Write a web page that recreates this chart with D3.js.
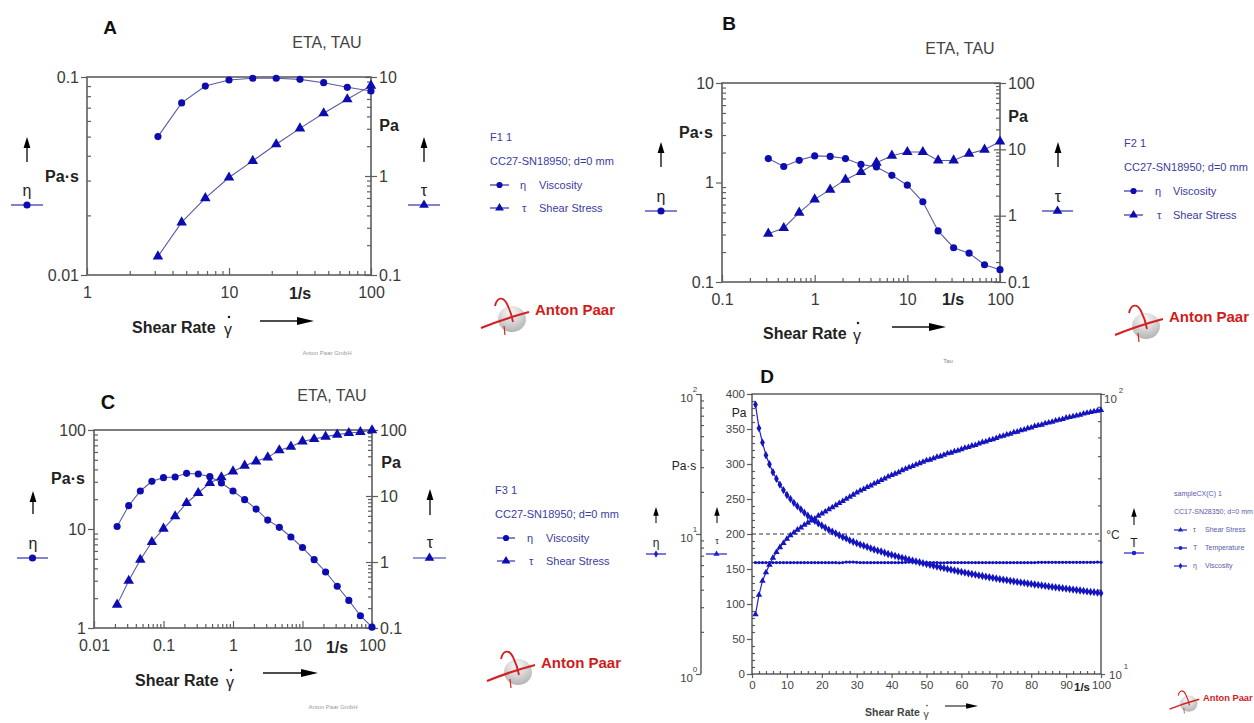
<!DOCTYPE html>
<html><head><meta charset="utf-8">
<script src="https://cdn.jsdelivr.net/npm/d3@7"></script>
<style>body{margin:0;background:#fff}svg{display:block}text{font-family:"Liberation Sans",Arial,sans-serif}</style>
</head><body><svg id="c" width="1254" height="723"></svg>
<script>
// ---------------- DATA ----------------
// Panel A
const aRate=[3.16,4.64,6.81,10,14.7,21.5,31.6,46.4,68.1,100];
const aEta=[0.050,0.074,0.090,0.0966,0.0985,0.0985,0.0973,0.0936,0.0887,0.085];
const aTau=[0.154,0.34,0.597,0.966,1.42,2.09,3.03,4.3,5.96,8.18];
const aXTicks=[1,10,100], aYLTicks=[0.01,0.1], aYRTicks=[0.1,1,10];
// Panel B
const bRate=[0.316,0.464,0.681,1,1.47,2.15,3.16,4.64,6.81,10,14.7,21.5,31.6,46.4,68.1,100];
const bEta=[1.74,1.45,1.67,1.85,1.83,1.74,1.52,1.43,1.18,0.94,0.64,0.326,0.221,0.195,0.149,0.133];
const bTau=[0.535,0.652,1.11,1.76,2.47,3.49,4.55,6.3,8.03,9.12,9.12,6.8,6.8,8.6,9.9,13.1];
const bXTicks=[0.1,1,10,100], bYLTicks=[0.1,1,10], bYRTicks=[0.1,1,10,100];
// Panel C
const cRate=[0.0215,0.0316,0.0464,0.0681,0.1,0.147,0.215,0.316,0.464,0.681,1,1.47,2.15,3.16,4.64,6.81,10,14.7,21.5,31.6,46.4,68.1,100];
const cEta=[10.6,17.2,24.2,30.3,33,33.5,36.5,35.9,33.8,29.2,24.2,19.8,15.9,12.3,10.4,8.3,6.5,4.9,3.68,2.64,1.9,1.33,1.02];
const cTau=[0.226,0.52,1.08,2.01,3.2,4.92,7.83,11.1,15.7,19.2,23.6,28.8,33.5,38.5,49.2,55.9,67.3,73.1,79.3,85,90,93.3,98.9];
const cXTicks=[0.01,0.1,1,10,100], cYLTicks=[1,10,100], cYRTicks=[0.1,1,10,100];
// Panel D
const dRate=[1,2,3,4,5,6,7,8,9,10,11,12,13,14,15,16,17,18,19,20,21,22,23,24,25,26,27,28,29,30,31,32,33,34,35,36,37,38,39,40,41,42,43,44,45,46,47,48,49,50,51,52,53,54,55,56,57,58,59,60,61,62,63,64,65,66,67,68,69,70,71,72,73,74,75,76,77,78,79,80,81,82,83,84,85,86,87,88,89,90,91,92,93,94,95,96,97,98,99,100];
const dTau=[85,113,133,145,156,166,174,181,187,193,198,202,206,209,213,216,219,222,226,229,232,235,238,241,244,247,250,253,256,259,262,264,267,269,272,274,277,279,282,284,286,288,291,293,295,297,299,301,303,305,306,308,310,311,313,315,316,318,319,321,323,324,326,327,329,331,332,334,335,337,339,340,342,343,345,346,348,349,351,352,354,355,356,358,359,360,362,363,364,366,367,368,369,370,372,373,374,375,376,377];
const dEta=[84,57,45,36.5,31.5,27.6,24.8,22.5,20.6,19.0,17.8,16.7,15.8,15.0,14.2,13.5,12.9,12.4,11.9,11.5,11.1,10.7,10.4,10.1,9.8,9.5,9.3,9.0,8.8,8.6,8.4,8.25,8.1,7.9,7.75,7.6,7.5,7.35,7.2,7.1,6.98,6.87,6.76,6.66,6.56,6.46,6.37,6.28,6.19,6.1,6.02,5.94,5.86,5.78,5.71,5.63,5.56,5.49,5.42,5.36,5.3,5.24,5.18,5.12,5.06,5.01,4.96,4.91,4.86,4.81,4.76,4.72,4.68,4.63,4.59,4.55,4.51,4.47,4.43,4.4,4.36,4.33,4.29,4.26,4.22,4.19,4.16,4.13,4.1,4.07,4.04,4.01,3.98,3.95,3.92,3.89,3.86,3.84,3.81,3.78];
const dTemp=[25.0,25.0,25.0,25.0,25.0,25.0,25.0,25.0,25.0,25.0,25.0,25.0,25.0,25.0,25.0,25.0,25.0,25.0,25.0,25.0,25.0,25.0,25.0,25.0,24.95,25.0,25.1,25.1,25.1,25.05,25.0,25.0,25.0,25.0,25.0,25.0,25.0,25.0,25.0,25.0,25.0,25.0,25.0,25.05,25.1,25.1,25.05,25.0,25.0,25.0,25.0,25.0,25.0,24.95,24.95,25.0,25.0,25.0,25.0,25.0,25.0,25.0,25.0,25.0,25.0,25.0,25.0,25.0,25.0,25.0,25.0,25.0,25.0,25.0,25.0,25.0,25.0,25.0,25.0,25.0,25.0,25.05,25.05,25.05,25.05,25.05,25.05,25.05,25.05,25.05,25.05,25.05,25.05,25.05,25.05,25.05,25.05,25.05,25.1,25.05];
const dXTicks=[0,10,20,30,40,50,60,70,80,90,100];
const dYTicks=[0,50,100,150,200,250,300,350,400];
const dEtaTicks=[1,10,100], dTTicks=[10,100];
const dDashed=[200];

// ---------------- DRAWING ----------------
const svg=d3.select('#c');
const MK='#0c0cb0', LN='#5a5aa6', AX='#5e5e5e', TX='#3a3a3a', LG='#3c3ca0';
const defs=svg.append('defs');
const rg=defs.append('radialGradient').attr('id','sph').attr('cx','45%').attr('cy','25%').attr('r','75%');
rg.append('stop').attr('offset','0%').attr('stop-color','#fafafa');
rg.append('stop').attr('offset','100%').attr('stop-color','#b4b4b4');

function styleAxis(s,fs,col){
  s.select('.domain').remove();
  s.selectAll('line').attr('stroke',AX).attr('stroke-width',1.2);
  if(fs) s.selectAll('text').attr('font-size',fs).attr('fill',col||TX).attr('font-family','Liberation Sans, Arial, sans-serif');
}
function minorsLog(t){const r=[];for(let i=0;i<t.length-1;i++)for(let m=2;m<=9;m++)r.push(t[i]*m);return r;}
function txt(x,y,s,o={}){
  return svg.append('text').attr('x',x).attr('y',y).attr('dy','.35em').text(s)
    .attr('font-size',o.fs||16).attr('font-weight',o.fw||'normal').attr('fill',o.c||TX)
    .attr('text-anchor',o.a||'middle').attr('font-family',o.ff||'Liberation Sans, Arial, sans-serif');
}
function upArrow(x,y1,y2,s=1){
  svg.append('line').attr('x1',x).attr('x2',x).attr('y1',y1+6*s).attr('y2',y2).attr('stroke','#333').attr('stroke-width',1.6*s);
  svg.append('path').attr('d',`M${x},${y1} L${x-3.4*s},${y1+11*s} L${x+3.4*s},${y1+11*s}Z`).attr('fill','#000');
}
function rightArrow(x1,x2,y,s=1){
  svg.append('line').attr('x1',x1).attr('x2',x2-8*s).attr('y1',y).attr('y2',y).attr('stroke','#111').attr('stroke-width',1.5*s);
  svg.append('path').attr('d',`M${x2},${y} L${x2-17*s},${y-4*s} L${x2-17*s},${y+4*s}Z`).attr('fill','#000');
}
function sym(type,size,x,y,col){
  svg.append('path').attr('d',d3.symbol().type(type).size(size)()).attr('transform',`translate(${x},${y})`).attr('fill',col||MK);
}
function legLine(x1,x2,y,type,size,col){
  svg.append('line').attr('x1',x1).attr('x2',x2).attr('y1',y).attr('y2',y).attr('stroke',col||'#3030b0').attr('stroke-width',1.2);
  sym(type,size,(x1+x2)/2,y,col);
}
function shearLabel(x,y,gx,fs,col){
  txt(x,y,'Shear Rate',{fs:fs,fw:'bold',a:'start',c:col||'#222'});
  txt(gx,y+2,'γ',{fs:fs,c:col||'#222'});
  svg.append('circle').attr('cx',gx+1).attr('cy',y-fs*0.62).attr('r',fs*0.08).attr('fill',col||'#222');
}
function logo(tx,ty,s){
  const g=svg.append('g').attr('transform',`translate(${tx},${ty}) scale(${s})`);
  g.append('ellipse').attr('cx',-23).attr('cy',9).attr('rx',14).attr('ry',13).attr('fill','url(#sph)');
  g.append('path').attr('d','M-40,-4 C-38,-13 -32,-14 -28,-6 C-25,0 -23,6 -22,12').attr('fill','none').attr('stroke','#d42020').attr('stroke-width',1.8);
  g.append('path').attr('d','M-54,18 Q-32,9 -6,2').attr('fill','none').attr('stroke','#d42020').attr('stroke-width',2.2);
  g.append('path').attr('d','M-31,16 L-30,25').attr('stroke','#d42020').attr('stroke-width',1.2);
  g.append('text').attr('x',0).attr('y',0).attr('dy','.35em').text('Anton Paar').attr('font-weight','bold').attr('font-size',15).attr('fill','#d01c1c').attr('font-family','Liberation Sans, Arial, sans-serif');
}

function logPanel(c){
  const g=svg.append('g');
  const x=d3.scaleLog().domain(d3.extent(c.xT)).range([c.L,c.R]);
  const yl=d3.scaleLog().domain(d3.extent(c.ylT)).range([c.B,c.T]);
  const yr=d3.scaleLog().domain(d3.extent(c.yrT)).range([c.B,c.T]);
  g.append('g').attr('transform',`translate(0,${c.B})`).call(d3.axisBottom(x).tickValues(minorsLog(c.xT)).tickSize(-4).tickFormat('')).call(s=>styleAxis(s));
  g.append('g').attr('transform',`translate(${c.L},0)`).call(d3.axisLeft(yl).tickValues(minorsLog(c.ylT)).tickSize(-4).tickFormat('')).call(s=>styleAxis(s));
  g.append('g').attr('transform',`translate(${c.R},0)`).call(d3.axisRight(yr).tickValues(minorsLog(c.yrT)).tickSize(-4).tickFormat('')).call(s=>styleAxis(s));
  g.append('g').attr('transform',`translate(0,${c.B})`).call(d3.axisBottom(x).tickValues(c.xT).tickSize(-7).tickPadding(12).tickFormat(String)).call(s=>styleAxis(s,16));
  g.append('g').attr('transform',`translate(${c.L},0)`).call(d3.axisLeft(yl).tickValues(c.ylT).tickSize(6).tickPadding(2).tickFormat(String)).call(s=>styleAxis(s,16));
  g.append('g').attr('transform',`translate(${c.R},0)`).call(d3.axisRight(yr).tickValues(c.yrT).tickSize(6).tickPadding(2).tickFormat(String)).call(s=>styleAxis(s,16));
  g.append('g').attr('transform',`translate(${c.R},0)`).call(d3.axisRight(yr).tickValues(c.yrT).tickSize(-6).tickFormat('')).call(s=>styleAxis(s));
  g.append('rect').attr('x',c.L).attr('y',c.T).attr('width',c.R-c.L).attr('height',c.B-c.T).attr('fill','none').attr('stroke',AX).attr('stroke-width',1.6);
  const l1=d3.line().x((d,i)=>x(c.rate[i])).y(d=>yl(d));
  const l2=d3.line().x((d,i)=>x(c.rate[i])).y(d=>yr(d));
  g.append('path').attr('d',l1(c.eta)).attr('fill','none').attr('stroke',LN).attr('stroke-width',1.1);
  g.append('path').attr('d',l2(c.tau)).attr('fill','none').attr('stroke',LN).attr('stroke-width',1.1);
  g.selectAll('.ce').data(c.eta).join('path').attr('d',d3.symbol().type(d3.symbolCircle).size(40)()).attr('transform',(d,i)=>`translate(${x(c.rate[i])},${yl(d)})`).attr('fill',MK);
  g.selectAll('.ct').data(c.tau).join('path').attr('d',d3.symbol().type(d3.symbolTriangle).size(48)()).attr('transform',(d,i)=>`translate(${x(c.rate[i])},${yr(d)})`).attr('fill',MK);
}

// ---- Panel A
logPanel({L:87,R:371,T:77,B:275,xT:aXTicks,ylT:aYLTicks,yrT:aYRTicks,rate:aRate,eta:aEta,tau:aTau});
txt(110,27,'A',{fs:19,fw:'bold',c:'#111'});
txt(327,42,'ETA, TAU',{fs:16,c:'#444'});
txt(300,293,'1/s',{fs:16,fw:'bold',c:'#222'});
txt(62,176,'Pa·s',{fs:16,fw:'bold',c:'#222'});
txt(389,125,'Pa',{fs:16,fw:'bold',c:'#222'});
upArrow(27,137,162); txt(27,190,'η',{fs:16,c:'#222'}); legLine(11,43,205,d3.symbolCircle,40);
upArrow(424,137,162); txt(424,190,'τ',{fs:16,c:'#222'}); legLine(408,440,205,d3.symbolTriangle,40);
txt(490,137,'F1 1',{fs:11,a:'start',c:LG});
txt(490,161,'CC27-SN18950; d=0 mm',{fs:11,a:'start',c:LG});
legLine(490,509,185,d3.symbolCircle,30); txt(520,185,'η',{fs:11,a:'start',c:LG}); txt(539,185,'Viscosity',{fs:11,a:'start',c:LG});
legLine(490,509,208,d3.symbolTriangle,34); txt(522,208,'τ',{fs:11,a:'start',c:LG}); txt(539,208,'Shear Stress',{fs:11,a:'start',c:LG});
shearLabel(132,327,228,16); rightArrow(260,314,321);
txt(327,353,'Anton Paar GmbH',{fs:6,c:'#999'});
logo(535,310,1);

// ---- Panel B
logPanel({L:722,R:1000,T:83,B:282,xT:bXTicks,ylT:bYLTicks,yrT:bYRTicks,rate:bRate,eta:bEta,tau:bTau});
txt(729,23,'B',{fs:19,fw:'bold',c:'#111'});
txt(960,48,'ETA, TAU',{fs:16,c:'#444'});
txt(953,299,'1/s',{fs:16,fw:'bold',c:'#222'});
txt(696,132,'Pa·s',{fs:16,fw:'bold',c:'#222'});
txt(1018,116,'Pa',{fs:16,fw:'bold',c:'#222'});
upArrow(661,142,167); txt(661,196,'η',{fs:16,c:'#222'}); legLine(645,677,211,d3.symbolCircle,40);
upArrow(1058,142,167); txt(1058,196,'τ',{fs:16,c:'#222'}); legLine(1042,1073,211,d3.symbolTriangle,40);
txt(1124,143,'F2 1',{fs:11,a:'start',c:LG});
txt(1124,167,'CC27-SN18950; d=0 mm',{fs:11,a:'start',c:LG});
legLine(1124,1143,191,d3.symbolCircle,30); txt(1155,191,'η',{fs:11,a:'start',c:LG}); txt(1173,191,'Viscosity',{fs:11,a:'start',c:LG});
legLine(1124,1143,215,d3.symbolTriangle,34); txt(1157,215,'τ',{fs:11,a:'start',c:LG}); txt(1173,215,'Shear Stress',{fs:11,a:'start',c:LG});
shearLabel(763,333,857,16); rightArrow(892,946,327);
logo(1169,317,1);
txt(948,361,'Tau',{fs:6,c:'#888'});

// ---- Panel C
logPanel({L:94,R:372,T:430,B:628,xT:cXTicks,ylT:cYLTicks,yrT:cYRTicks,rate:cRate,eta:cEta,tau:cTau});
txt(108,402,'C',{fs:20,fw:'bold',c:'#111'});
txt(332,395,'ETA, TAU',{fs:16,c:'#444'});
txt(337,647,'1/s',{fs:16,fw:'bold',c:'#222'});
txt(68,478,'Pa·s',{fs:16,fw:'bold',c:'#222'});
txt(391,462,'Pa',{fs:16,fw:'bold',c:'#222'});
upArrow(33,491,514); txt(33,543,'η',{fs:16,c:'#222'}); legLine(17,48,558,d3.symbolCircle,40);
upArrow(430,489,515); txt(430,542,'τ',{fs:16,c:'#222'}); legLine(413,446,558,d3.symbolTriangle,40);
txt(495,490,'F3 1',{fs:11,a:'start',c:LG});
txt(495,514,'CC27-SN18950; d=0 mm',{fs:11,a:'start',c:LG});
legLine(497,515,538,d3.symbolCircle,30); txt(527,538,'η',{fs:11,a:'start',c:LG}); txt(546,538,'Viscosity',{fs:11,a:'start',c:LG});
legLine(497,515,561,d3.symbolTriangle,34); txt(529,561,'τ',{fs:11,a:'start',c:LG}); txt(546,561,'Shear Stress',{fs:11,a:'start',c:LG});
shearLabel(135,680,230,16); rightArrow(263,318,673);
txt(333,707,'Anton Paar GmbH',{fs:6,c:'#999'});
logo(541,663,1);

// ---- Panel D
(function(){
  const L=752,R=1101,T=394,B=674, EX=701;
  const x=d3.scaleLinear().domain([0,100]).range([L,R]);
  const y=d3.scaleLinear().domain([0,400]).range([B,T]);
  const ye=d3.scaleLog().domain(d3.extent(dEtaTicks)).range([B,T]);
  const yt=d3.scaleLog().domain(d3.extent(dTTicks)).range([B,T]);
  const g=svg.append('g');
  const DC='#2222c4';
  g.append('g').attr('transform',`translate(0,${B})`).call(d3.axisBottom(x).tickValues(d3.range(2,100,2).filter(v=>v%10)).tickSize(-3).tickFormat('')).call(s=>styleAxis(s));
  g.append('g').attr('transform',`translate(${L},0)`).call(d3.axisLeft(y).tickValues(d3.range(10,400,10).filter(v=>v%50)).tickSize(-3).tickFormat('')).call(s=>styleAxis(s));
  g.append('g').attr('transform',`translate(${EX},0)`).call(d3.axisLeft(ye).tickValues(minorsLog(dEtaTicks)).tickSize(-3).tickFormat('')).call(s=>styleAxis(s));
  g.append('g').attr('transform',`translate(${R},0)`).call(d3.axisRight(yt).tickValues(minorsLog(dTTicks)).tickSize(-3).tickFormat('')).call(s=>styleAxis(s));
  g.append('g').attr('transform',`translate(0,${B})`).call(d3.axisBottom(x).tickValues(dXTicks).tickSize(4).tickPadding(3).tickFormat(String)).call(s=>styleAxis(s,11.5,'#444'));
  g.append('g').attr('transform',`translate(${L},0)`).call(d3.axisLeft(y).tickValues(dYTicks).tickSize(5).tickPadding(2).tickFormat(String)).call(s=>styleAxis(s,11.5,'#444'));
  g.append('g').attr('transform',`translate(${EX},0)`).call(d3.axisLeft(ye).tickValues(dEtaTicks).tickSize(5).tickFormat('')).call(s=>styleAxis(s));
  g.append('g').attr('transform',`translate(${R},0)`).call(d3.axisRight(yt).tickValues(dTTicks).tickSize(4).tickFormat('')).call(s=>styleAxis(s));
  g.append('line').attr('x1',EX).attr('x2',EX).attr('y1',T).attr('y2',B).attr('stroke','#444').attr('stroke-width',1.3);
  g.append('rect').attr('x',L).attr('y',T).attr('width',R-L).attr('height',B-T).attr('fill','none').attr('stroke','#444').attr('stroke-width',1.3);
  dEtaTicks.forEach(v=>{const e=Math.round(Math.log10(v));txt(EX-8,ye(v)+4,'10',{fs:11.5,a:'end',c:'#444'});txt(EX-6,ye(v)-5,String(e),{fs:8,a:'middle',c:'#444'});});
  dTTicks.forEach((v,i)=>{const e=Math.round(Math.log10(v));const dx=i===0?8:3;txt(R+dx,yt(v)+(i===0?1:5),'10',{fs:11.5,a:'start',c:'#444'});txt(R+dx+17,yt(v)-(i===0?8:4),String(e),{fs:8,a:'middle',c:'#444'});});
  g.selectAll('.dl').data(dDashed).join('line').attr('x1',L).attr('x2',R).attr('y1',d=>y(d)).attr('y2',d=>y(d)).attr('stroke','#333').attr('stroke-dasharray','4,3').attr('stroke-width',1);
  const lt=d3.line().x((d,i)=>x(dRate[i])).y(d=>y(d));
  const le=d3.line().x((d,i)=>x(dRate[i])).y(d=>ye(d));
  const lT=d3.line().x((d,i)=>x(dRate[i])).y(d=>yt(d));
  g.append('path').attr('d',lT(dTemp)).attr('fill','none').attr('stroke',DC).attr('stroke-width',1.3);
  g.append('path').attr('d',le(dEta)).attr('fill','none').attr('stroke',DC).attr('stroke-width',1.2);
  g.append('path').attr('d',lt(dTau)).attr('fill','none').attr('stroke',DC).attr('stroke-width',1.2);
  g.selectAll('.mT').data(dTemp).join('path').attr('d',d3.symbol().type(d3.symbolCircle).size(9)()).attr('transform',(d,i)=>`translate(${x(dRate[i])},${yt(d)})`).attr('fill','#1414c0');
  g.selectAll('.me').data(dEta).join('path').attr('d',d3.symbol().type(d3.symbolDiamond).size(20)()).attr('transform',(d,i)=>`translate(${x(dRate[i])},${ye(d)})`).attr('fill','#1414c0');
  g.selectAll('.mt').data(dTau).join('path').attr('d',d3.symbol().type(d3.symbolTriangle).size(18)()).attr('transform',(d,i)=>`translate(${x(dRate[i])},${y(d)})`).attr('fill','#1414c0');
  txt(767,376,'D',{fs:19,fw:'bold',c:'#111'});
  txt(1082,687,'1/s',{fs:11.5,fw:'bold',c:'#222'});
  txt(739,413,'Pa',{fs:12,c:'#222'});
  txt(684,466,'Pa·s',{fs:12,c:'#222'});
  txt(1113,535,'°C',{fs:12,c:'#333'});
  upArrow(656,507,523,0.8); txt(656,543,'η',{fs:12,c:'#222'}); legLine(646,666,554,d3.symbolDiamond,16,DC);
  upArrow(717,507,523,0.8); txt(717,541,'τ',{fs:9,c:'#222'}); legLine(706,727,554,d3.symbolTriangle,16,DC);
  upArrow(1134,508,525,0.8); txt(1134,543,'T',{fs:12,c:'#222'}); legLine(1124,1144,553,d3.symbolCircle,16,DC);
  const lc='#5a5aaa';
  txt(1174,494,'sampleCX(C) 1',{fs:7,a:'start',c:lc});
  txt(1174,512,'CC17-SN28350; d=0 mm',{fs:7,a:'start',c:lc});
  legLine(1174,1187,530,d3.symbolTriangle,12,DC); txt(1193,530,'τ',{fs:7,a:'start',c:lc}); txt(1205,530,'Shear Stress',{fs:7,a:'start',c:lc});
  legLine(1174,1187,548,d3.symbolCircle,12,DC); txt(1193,548,'T',{fs:7,a:'start',c:lc}); txt(1205,548,'Temperature',{fs:7,a:'start',c:lc});
  legLine(1174,1187,566,d3.symbolDiamond,12,DC); txt(1193,566,'η',{fs:7,a:'start',c:lc}); txt(1205,566,'Viscosity',{fs:7,a:'start',c:lc});
  shearLabel(865,712,926,10.5,'#444'); rightArrow(945,978,706,0.7);
  logo(1203,698,0.62);
})();
</script></body></html>
